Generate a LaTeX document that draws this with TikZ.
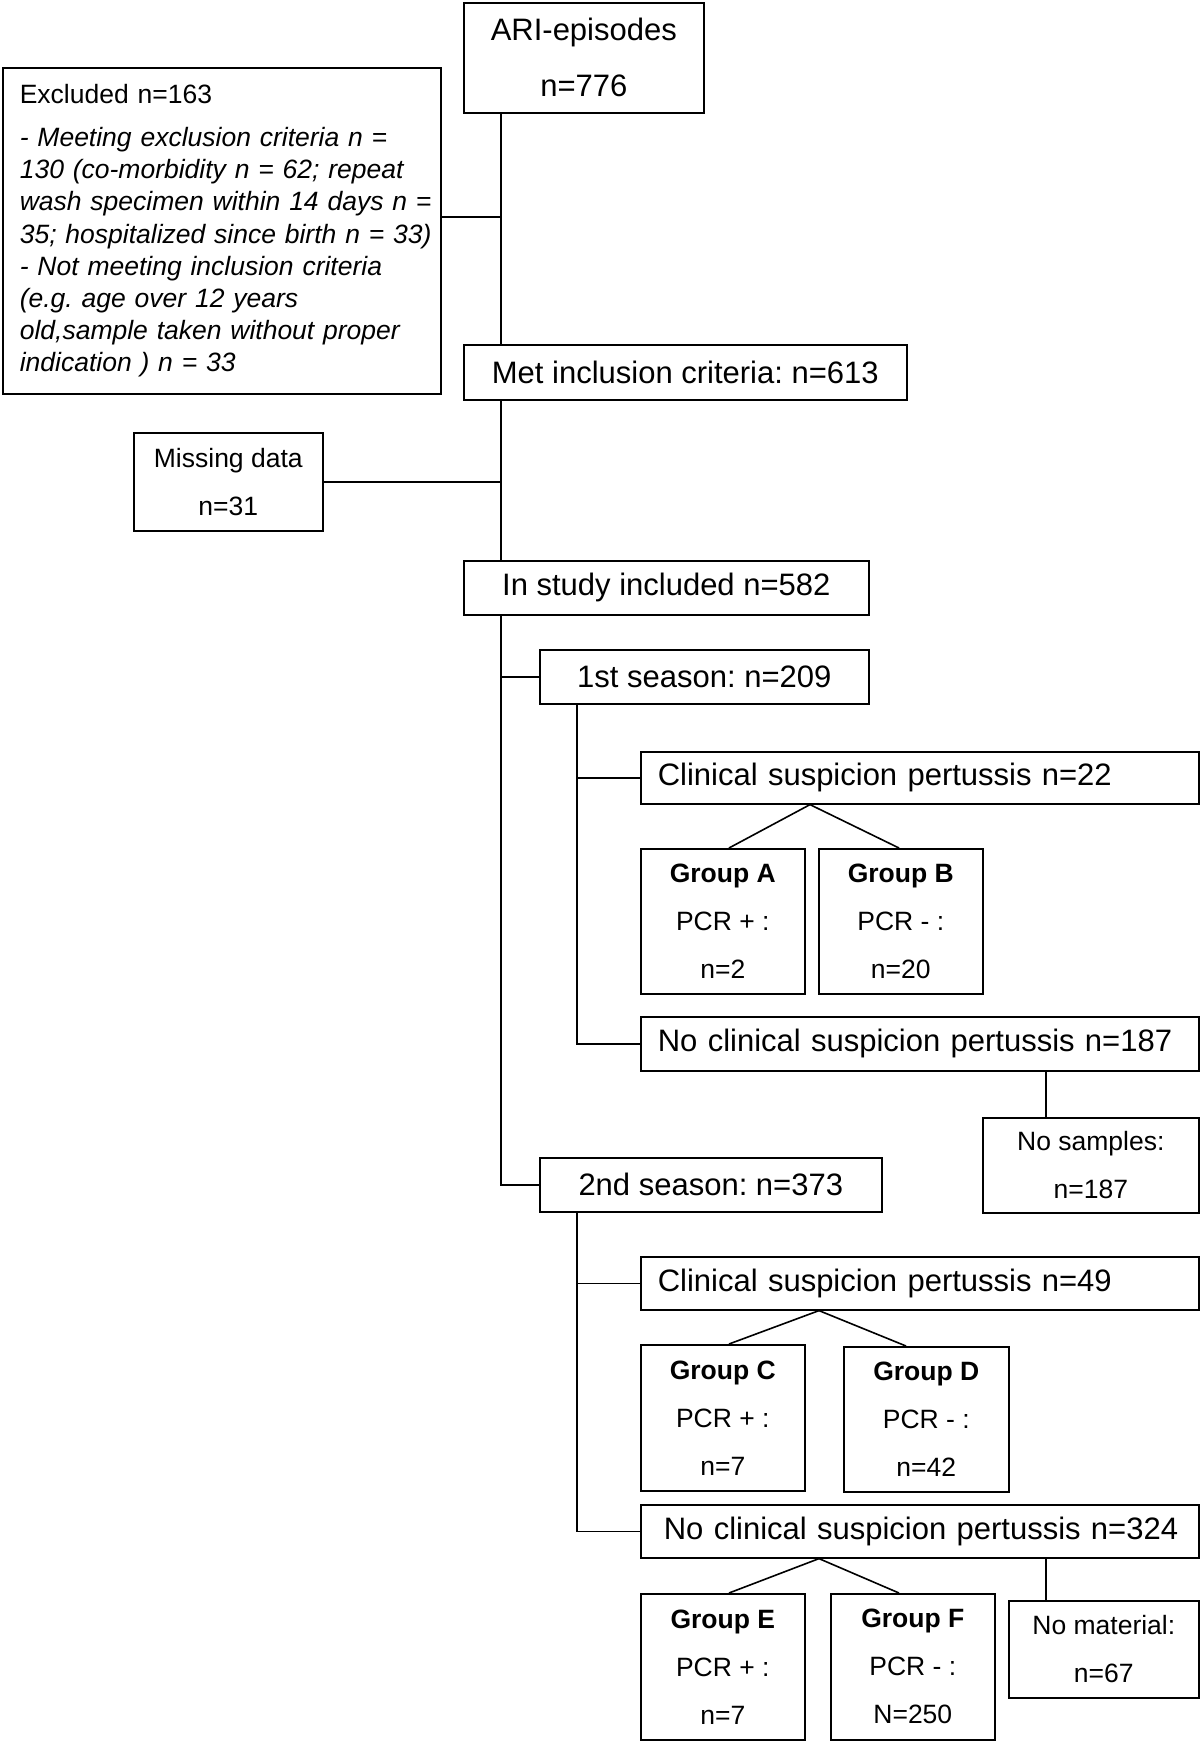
\documentclass[tikz,border=0pt]{standalone}
\usepackage{fontspec}
\setmainfont{Liberation Sans}
\frenchspacing
\begin{document}
\begin{tikzpicture}[x=1pt,y=-1pt, line width=1.6pt,
 box/.style={draw, line width=1.6pt, inner sep=0pt, anchor=north west, align=center},
 big/.style={font=\fontsize{31}{56}\selectfont},
 small/.style={font=\fontsize{26.5}{48}\selectfont},
 lbox/.style={box, align=left, inner xsep=17pt, text width=#1}]
\fill[white] (0,0) rectangle (1200,1742);
\useasboundingbox (0,0) rectangle (1200,1742);
% boxes
\node[box, big, minimum width=240pt, minimum height=110pt] (ari) at (463,2) {ARI-episodes\\n=776};
\node[box, lbox=404pt, font=\fontsize{26.5}{32.2}\selectfont, minimum height=326pt] (excl) at (2,67)
 {\mbox{Excluded n=163}\\[11pt]
  \mbox{\itshape - Meeting exclusion criteria n =}\\
  \mbox{\itshape 130 (co-morbidity n = 62; repeat}\\
  \mbox{\itshape wash specimen within 14 days n =}\\
  \mbox{\itshape 35; hospitalized since birth n = 33)}\\
  \mbox{\itshape - Not meeting inclusion criteria}\\
  \mbox{\itshape (e.g. age over 12 years}\\
  \mbox{\itshape old,sample taken without proper}\\
  \mbox{\itshape indication ) n = 33}};
\node[box, big, minimum width=443pt, minimum height=55pt] (met) at (463,344) {Met inclusion criteria: n=613};
\node[box, small, minimum width=189pt, minimum height=98pt] (miss) at (133,432) {Missing data\\n=31};
\node[box, big, minimum width=405pt, minimum height=54pt] (inc) at (463,560) {In study included n=582};
\node[box, big, minimum width=329pt, minimum height=54pt] (s1) at (539,649) {1st season: n=209};
\node[box, big, lbox=524pt, minimum height=52pt] (cs1) at (640,751) {\mbox{Clinical suspicion pertussis n=22}};
\node[box, small, minimum width=164pt, minimum height=145pt] (ga) at (640,848) {\textbf{Group A}\\PCR + :\\n=2};
\node[box, small, minimum width=164pt, minimum height=145pt] (gb) at (818,848) {\textbf{Group B}\\PCR - :\\n=20};
\node[box, big, lbox=524pt, minimum height=54pt] (nc1) at (640,1016) {\mbox{No clinical suspicion pertussis n=187}};
\node[box, small, minimum width=216pt, minimum height=95pt] (ns) at (982,1117) {No samples:\\n=187};
\node[box, big, minimum width=342pt, minimum height=54pt] (s2) at (539,1157) {2nd season: n=373};
\node[box, big, lbox=524pt, minimum height=53pt] (cs2) at (640,1256) {\mbox{Clinical suspicion pertussis n=49}};
\node[box, small, minimum width=164pt, minimum height=146pt] (gc) at (640,1344) {\textbf{Group C}\\PCR + :\\n=7};
\node[box, small, minimum width=165pt, minimum height=145pt] (gd) at (843,1346) {\textbf{Group D}\\PCR - :\\n=42};
\node[box, big, align=left, inner xsep=23pt, text width=512pt, minimum height=53pt] (nc2) at (640,1504) {\mbox{No clinical suspicion pertussis n=324}};
\node[box, small, minimum width=164pt, minimum height=146pt] (ge) at (640,1593) {\textbf{Group E}\\PCR + :\\n=7};
\node[box, small, minimum width=164pt, minimum height=146pt] (gf) at (830,1593) {\textbf{Group F}\\PCR - :\\N=250};
\node[box, small, minimum width=190pt, minimum height=97pt] (nm) at (1008,1600) {No material:\\n=67};
% helper coordinates
\coordinate (tx) at (501,0);
\coordinate (sx) at (577,0);
\coordinate (ey) at (0,217);
\coordinate (d1) at (810,0);
\coordinate (d2) at (819,0);
\coordinate (nx) at (1046,0);
\coordinate (la) at (729,0);
\coordinate (rb) at (899,0);
\coordinate (rd) at (906,0);
% connectors
\draw (ari.south -| tx) -- (met.north -| tx);
\draw (excl.east |- ey) -- (tx |- ey);
\draw (met.south -| tx) -- (inc.north -| tx);
\draw (miss.east) -- (miss.east -| tx);
\draw (inc.south -| tx) -- (s2.west -| tx) -- (s2.west);
\draw (s1.west) -- (s1.west -| tx);
\draw (s1.south -| sx) -- (nc1.west -| sx) -- (nc1.west);
\draw (cs1.west) -- (cs1.west -| sx);
\draw (ga.north -| la) -- (cs1.south -| d1) -- (gb.north -| rb);
\draw (nc1.south -| nx) -- (ns.north -| nx);
\draw (s2.south -| sx) -- (nc2.west -| sx) -- (nc2.west);
\draw (cs2.west) -- (cs2.west -| sx);
\draw (gc.north -| la) -- (cs2.south -| d2) -- (gd.north -| rd);
\draw (ge.north -| la) -- (nc2.south -| d2) -- (gf.north -| rb);
\draw (nc2.south -| nx) -- (nm.north -| nx);
\end{tikzpicture}
\end{document}
